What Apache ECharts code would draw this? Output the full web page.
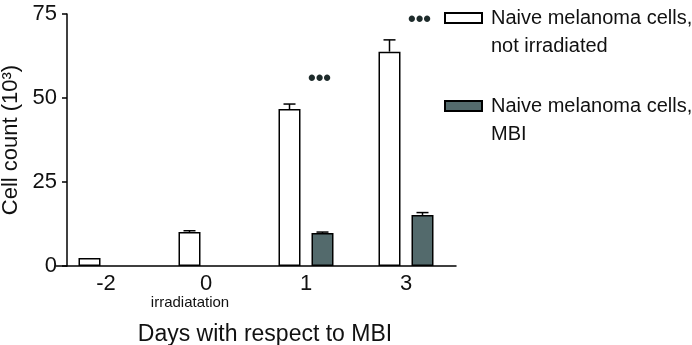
<!DOCTYPE html>
<html>
<head>
<meta charset="utf-8">
<script src="https://cdn.jsdelivr.net/npm/echarts@6/dist/echarts.min.js"></script>
<style>
  html, body { margin: 0; padding: 0; background: #ffffff; }
  #chart { width: 692px; height: 345px; }
</style>
</head>
<body>
<div id="chart"></div>
<script>
// data
var days = ["-2", "0", "1", "3"];
var notIrradiated = [2.4, 10.1, 46.7, 63.8];
var notIrradiatedErr = [0, 0.4, 1.5, 3.5];
var mbi = [null, null, 9.8, 15.2];
var mbiErr = [null, null, 0.3, 0.7];
var signifY = [null, null, 55.7, 73.2];
var yTicks = [0, 25, 50, 75];

var FONT = "Liberation Sans, Arial, sans-serif";
var BAR_W = 22;
var BAR_SHIFT = 16.5; // half of bar + half of gap

function errorBar(values, errs, shift) {
  return function (params, api) {
    var i = params.dataIndex;
    var v = values[i], e = errs[i];
    if (v == null || !e) return null;
    var base = api.coord([i, v]);
    var top = api.coord([i, v + e]);
    var x = base[0] + shift;
    return {
      type: "group",
      children: [
        { type: "line", shape: { x1: x, y1: base[1], x2: x, y2: top[1] }, style: { stroke: "#000", lineWidth: 1.5 } },
        { type: "line", shape: { x1: x - 6, y1: top[1], x2: x + 6, y2: top[1] }, style: { stroke: "#000", lineWidth: 1.5 } }
      ]
    };
  };
}

var myChart = echarts.init(document.getElementById("chart"));
myChart.setOption({
  animation: false,
  textStyle: { fontFamily: FONT },
  grid: { left: 56, width: 400, top: 14, bottom: 79, outerBoundsMode: "none", containLabel: false },
  legend: {
    orient: "vertical",
    left: 439,
    top: -29,
    itemWidth: 37,
    itemHeight: 10,
    itemGap: 4,
    selectedMode: false,
    formatter: function (name) { return "\n" + name; },
    textStyle: { fontSize: 20, color: "#111", lineHeight: 28, padding: [0, 0, 0, 4] },
    data: [
      { name: "Naive melanoma cells,\nnot irradiated", icon: "rect" },
      { name: "Naive melanoma cells,\nMBI", icon: "rect" }
    ]
  },
  xAxis: {
    type: "category",
    data: days,
    axisLine: { lineStyle: { color: "#000", width: 1.5 } },
    axisTick: { show: false },
    axisLabel: {
      interval: 0,
      fontSize: 22, color: "#111", margin: 7,
      formatter: function (v) { return v === "0" ? "0\n{s|irradiatation}" : v; },
      rich: { s: { fontSize: 15, color: "#111", padding: [0, 32, 0, 0] } }
    },
    name: "Days with respect to MBI",
    nameLocation: "middle",
    nameGap: 57,
    nameTextStyle: { fontSize: 23, color: "#111", padding: [0, 0, 0, 18] }
  },
  yAxis: {
    type: "value",
    min: yTicks[0],
    max: yTicks[yTicks.length - 1],
    interval: 25,
    offset: -11,
    axisLine: { show: true, lineStyle: { color: "#000", width: 1.5 } },
    axisTick: { show: true, length: 5, lineStyle: { color: "#000", width: 1.5 } },
    splitLine: { show: false },
    axisLabel: { fontSize: 22, color: "#111", margin: 10 },
    name: "Cell count (10³)",
    nameLocation: "middle",
    nameGap: 44,
    nameTextStyle: { fontSize: 22, color: "#111" }
  },
  series: [
    {
      name: "Naive melanoma cells,\nnot irradiated",
      type: "bar",
      barWidth: BAR_W,
      barGap: "50%",
      data: notIrradiated,
      itemStyle: { color: "#ffffff", borderColor: "#000", borderWidth: 1.5 }
    },
    {
      name: "Naive melanoma cells,\nMBI",
      type: "bar",
      barWidth: BAR_W,
      barGap: "50%",
      data: mbi,
      itemStyle: { color: "#536a6c", borderColor: "#000", borderWidth: 1.5 }
    },
    {
      type: "custom",
      renderItem: errorBar(notIrradiated, notIrradiatedErr, -BAR_SHIFT),
      data: notIrradiated,
      z: 3
    },
    {
      type: "custom",
      renderItem: errorBar(mbi, mbiErr, BAR_SHIFT),
      data: mbi,
      z: 3
    },
    {
      type: "custom",
      data: signifY,
      renderItem: function (params, api) {
        var v = signifY[params.dataIndex];
        if (v == null) return null;
        var p = api.coord([params.dataIndex, v]);
        return {
          type: "text",
          style: {
            x: p[0] + BAR_SHIFT - 3, y: p[1], text: "•••",
            fill: "#1e2b2b", font: "bold 22px " + FONT,
            align: "center", verticalAlign: "middle"
          }
        };
      },
      z: 3
    }
  ]
});
</script>
</body>
</html>
